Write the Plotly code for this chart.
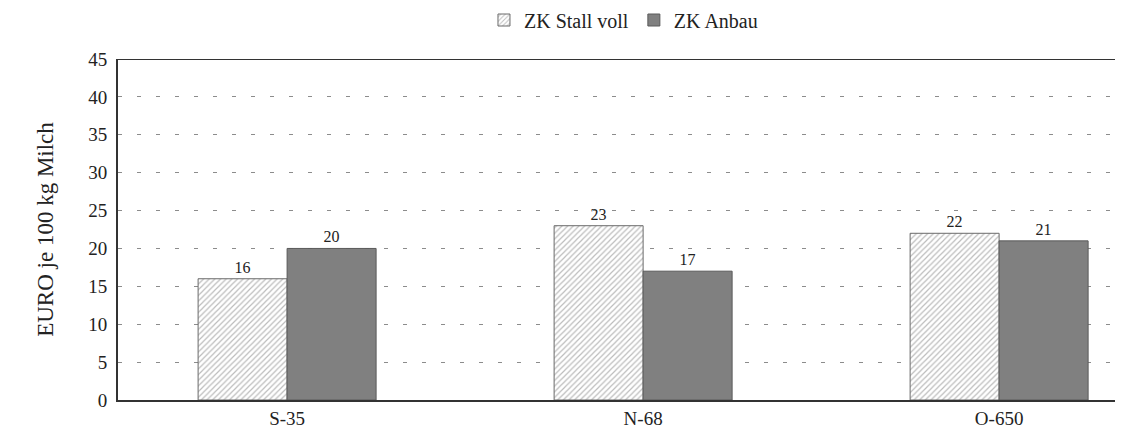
import plotly.graph_objects as go

categories = ["S-35", "N-68", "O-650"]
stall_voll = [16, 23, 22]
anbau = [20, 17, 21]
series_names = ["ZK Stall voll", "ZK Anbau"]
y_title = "EURO je 100 kg Milch"
y_ticks = [0, 5, 10, 15, 20, 25, 30, 35, 40, 45]

font = "Liberation Serif, Times New Roman, serif"

fig = go.Figure()
fig.add_trace(go.Bar(
    x=categories, y=stall_voll, name=series_names[0],
    marker=dict(color="white",
                pattern=dict(shape="/", fgcolor="#7a7a7a", bgcolor="white", size=4, solidity=0.3),
                line=dict(color="#6a6a6a", width=1)),
    text=stall_voll, textposition="outside", cliponaxis=False,
    textfont=dict(size=16, color="#222", family=font),
))
fig.add_trace(go.Bar(
    x=categories, y=anbau, name=series_names[1],
    marker=dict(color="#808080", line=dict(color="#5a5a5a", width=1)),
    text=anbau, textposition="outside", cliponaxis=False,
    textfont=dict(size=16, color="#222", family=font),
))

fig.update_layout(
    width=1115, height=430,
    margin=dict(l=110, r=0, t=51, b=38, autoexpand=False),
    paper_bgcolor="white", plot_bgcolor="white",
    font=dict(family=font, size=19, color="#222"),
    barmode="group", bargap=0.5, bargroupgap=0,
    showlegend=True,
    legend=dict(orientation="h", x=0.552, xanchor="center", y=1 - 12 / 430, yanchor="middle",
                yref="container", xref="container",
                font=dict(size=20, family=font), traceorder="normal",
                itemwidth=30, bgcolor="rgba(0,0,0,0)"),
    uniformtext=dict(minsize=16, mode="show"),
)
fig.update_xaxes(
    range=[-0.475, 2.348], showline=True, linecolor="#333", linewidth=2,
    ticks="", tickfont=dict(size=19, family=font), showgrid=False,
)
fig.update_yaxes(
    range=[0, 45], tickvals=y_ticks, showline=True, linecolor="#333", linewidth=2,
    ticks="", tickfont=dict(size=19, family=font), ticklabelstandoff=5,
    showgrid=True, gridcolor="#8c8c8c", gridwidth=1, griddash="4px,15px",
    zeroline=False,
    title=dict(text=y_title, font=dict(size=23, family=font), standoff=28),
)
# top border of the plot frame
fig.add_shape(type="line", xref="paper", yref="y", x0=0, x1=1, y0=45, y1=45,
              line=dict(color="#333", width=2))

fig.write_html("out.html", post_script="document.body.style.overflow='hidden';")
